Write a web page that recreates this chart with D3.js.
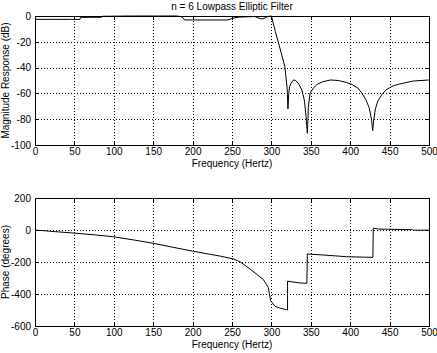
<!DOCTYPE html>
<html>
<head>
<meta charset="utf-8">
<script src="https://cdn.jsdelivr.net/npm/d3@7"></script>
<style>
  body { margin: 0; background: #fff; }
  svg { display: block; }
  text { font-family: "Liberation Sans", Arial, sans-serif; font-size: 10px; fill: #000; }
  .grid line { stroke: #000; stroke-dasharray: 1,2; shape-rendering: crispEdges; }
  .grid path { display: none; }
  .axis path, .axis line { stroke: #000; shape-rendering: crispEdges; }
</style>
</head>
<body>
<script>
// n = 6 lowpass elliptic filter
var freqTicks = [0, 50, 100, 150, 200, 250, 300, 350, 400, 450, 500];
var magTicks = [0, -20, -40, -60, -80, -100];
var phaseTicks = [200, 0, -200, -400, -600];

var magFreq = [0, 20, 45, 57, 58, 70, 84, 86, 105, 120, 150, 180, 186, 190, 245, 252, 260, 279, 283, 288, 292, 296, 300,
  305, 310, 317, 320, 321, 322, 323, 325, 328, 331, 335, 339, 342, 344, 345.6, 347, 349, 353, 358, 365, 375,
  385, 395, 402, 410, 415, 420, 424, 427, 428.5, 430, 432, 435, 440, 446, 455, 463, 480, 500];
var magDb = [-2.6, -2.6, -2.6, -2.6, -1.1, -1.0, -1.0, -0.2, -0.1, 0, 0, 0, -0.5, -3.1, -3.1, -1.5, -0.8, -0.4, -1.5, -2.3, -1.5, -0.3, 0,
  -12, -23, -39, -56, -72, -60, -55, -52, -49.6, -50, -53, -58, -66, -78, -91, -70, -60, -56, -53, -51, -49.6,
  -50, -51.5, -53, -56, -60, -65, -71, -80, -89, -80, -72, -66, -61, -57, -54, -52.7, -50.4, -49.6];

var phaseFreq = [0, 25, 48.6, 75, 99, 125, 150, 175, 201, 220, 235, 251.7, 260, 273, 290, 296, 299, 304.6, 312, 319, 320.5,
  320.5, 336, 345, 345.6, 368, 395.6, 428.8, 429.3, 435.7, 478, 480, 500];
var phaseDeg = [0, -10, -19, -30, -42, -62, -83, -108, -133, -150, -163, -181, -198, -244, -311, -359, -442, -477, -490, -498, -500,
  -320, -331, -333, -150, -157, -167, -171, 12, 6, 2, -1, -1];

var W = 437, H = 353;
var svg = d3.select("body").append("svg").attr("width", W).attr("height", H);

// plain hyphen minus like the original
var fmt = function(d) { return String(d); };

function panel(top, bottom, yDomain, yTicks, fx, fy, ylabel, title) {
  var left = 35, right = 429;
  var x = d3.scaleLinear().domain([0, 500]).range([left, right]);
  var y = d3.scaleLinear().domain(yDomain).range([bottom, top]);
  var h = bottom - top, w = right - left;

  svg.append("g").attr("class", "grid")
    .attr("transform", "translate(0," + bottom + ")")
    .call(d3.axisBottom(x).tickValues(freqTicks.slice(1, -1)).tickSize(-h).tickFormat(""));
  svg.append("g").attr("class", "grid")
    .attr("transform", "translate(" + left + ",0)")
    .call(d3.axisLeft(y).tickValues(yTicks.filter(function(d) { return d != yDomain[0] && d != yDomain[1]; })).tickSize(-w).tickFormat(""));

  // line
  var line = d3.line().x(function(d) { return x(d[0]); }).y(function(d) { return y(d[1]); });
  svg.append("path")
    .datum(d3.zip(fx, fy))
    .attr("d", line)
    .attr("fill", "none")
    .attr("stroke", "#000")
    .attr("stroke-width", 1);

  // frame with inward ticks
  svg.append("g").attr("class", "axis")
    .attr("transform", "translate(0," + bottom + ")")
    .call(d3.axisBottom(x).tickValues(freqTicks).tickSize(-4).tickSizeOuter(0).tickPadding(3).tickFormat(fmt));
  svg.append("g").attr("class", "axis")
    .attr("transform", "translate(0," + top + ")")
    .call(d3.axisTop(x).tickValues(freqTicks).tickSize(-4).tickSizeOuter(0).tickFormat(""));
  svg.append("g").attr("class", "axis")
    .attr("transform", "translate(" + left + ",0)")
    .call(d3.axisLeft(y).tickValues(yTicks).tickSize(-4).tickSizeOuter(0).tickPadding(4).tickFormat(fmt));
  svg.append("g").attr("class", "axis")
    .attr("transform", "translate(" + right + ",0)")
    .call(d3.axisRight(y).tickValues(yTicks).tickSize(-4).tickSizeOuter(0).tickFormat(""));

  svg.selectAll(".axis text").style("font-family", "'Liberation Sans', Arial, sans-serif").style("font-size", "10px");

  svg.append("text")
    .attr("x", (left + right) / 2).attr("y", bottom + 22)
    .attr("text-anchor", "middle")
    .text("Frequency (Hertz)");

  svg.append("text")
    .attr("transform", "translate(9," + (top + bottom) / 2 + ") rotate(-90)")
    .attr("text-anchor", "middle")
    .text(ylabel);

  if (title) {
    svg.append("text")
      .attr("x", (left + right) / 2).attr("y", top - 6)
      .attr("text-anchor", "middle")
      .text(title);
  }
}

panel(16, 145, [-100, 0], magTicks, magFreq, magDb, "Magnitude Response (dB)", "n = 6 Lowpass Elliptic Filter");
panel(198, 326, [-600, 200], phaseTicks, phaseFreq, phaseDeg, "Phase (degrees)", null);
</script>
</body>
</html>
